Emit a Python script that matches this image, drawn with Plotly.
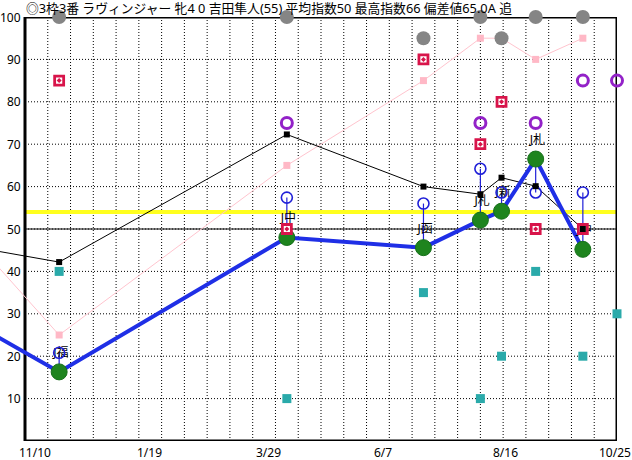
import pandas as pd
import plotly.graph_objects as go

# ---------------- data ----------------
title_text = "◎3枠3番 ラヴィンジャー 牝4 0 吉田隼人(55) 平均指数50 最高指数66 偏差値65.0A 追"

race_dates = ["2019-11-17", "2020-04-05", "2020-06-28", "2020-08-02",
              "2020-08-15", "2020-09-05", "2020-10-04"]
venues = ["J福", "J中", "J函", "J札", "J新", "J札", "J中"]
green_idx = [16.3, 48.0, 45.6, 52.1, 54.2, 66.5, 45.2]
blue_idx = [20.8, 57.4, 56.0, 64.2, 58.6, 58.6, 58.6]
black_idx = [42.2, 72.3, 60.0, 58.2, 62.1, 60.1, 50.0]
pink_idx = [25, 65, 85, 95, 95, 90, 95]
red_idx = [85, 50, 90, 70, 80, 50, 50]
gray_idx = [100, 100, 95, 100, 95, 100, 100]
purple_idx = [105, 75, 105, 75, 105, 75, 85]
teal_idx = [40, 10, 35, 10, 20, 40, 20]

prev_date = "2019-09-22"
prev_green, prev_pink, prev_black = 28.5, 49, 46

next_date = "2020-10-25"
next_purple = 85
next_teal = 30

axis_start = "2019-10-27"
axis_end = "2020-10-25"
x_tick_text = ["11/10", "1/19", "3/29", "6/7", "8/16", "10/25"]
y_ticks = [10, 20, 30, 40, 50, 60, 70, 80, 90, 100]
avg_line = 54
base_line = 50

# ---------------- geometry ----------------
W, H = 632, 460
ML, MR, MT, MB = 0, 15, 17, 19
AXIS_OFF = 25          # left axis sits 25px inside the plot area
plot_w = W - ML - MR
plot_h = H - MT - MB
t0 = pd.Timestamp(axis_start)
t1 = pd.Timestamp(axis_end)
span_days = (t1 - t0).days
px_per_day = (plot_w - AXIS_OFF) / span_days
px_per_unit = plot_h / 100.0
range_start = t0 - pd.Timedelta(days=AXIS_OFF / px_per_day)

FONT = "Noto Sans, Noto Sans CJK JP, sans-serif"

fig = go.Figure()

all_dates = [prev_date] + race_dates

# pink line
fig.add_trace(go.Scatter(x=all_dates, y=[prev_pink] + pink_idx, mode="lines",
                         line=dict(color="#FFC4CE", width=1), hoverinfo="skip"))
fig.add_trace(go.Scatter(x=race_dates, y=pink_idx, mode="markers",
                         marker=dict(symbol="square", size=7, color="#FFB8C6"),
                         cliponaxis=False))
# black line
fig.add_trace(go.Scatter(x=all_dates, y=[prev_black] + black_idx, mode="lines",
                         line=dict(color="black", width=1)))
# blue verticals
vx, vy = [], []
for d, b, g in zip(race_dates, blue_idx, green_idx):
    vx += [d, d, None]
    vy += [b, g, None]
fig.add_trace(go.Scatter(x=vx, y=vy, mode="lines",
                         line=dict(color="#2020D8", width=1.2)))
# blue thick line
fig.add_trace(go.Scatter(x=all_dates, y=[prev_green] + green_idx, mode="lines",
                         line=dict(color="#1F2FE6", width=4)))
# green markers
fig.add_trace(go.Scatter(x=race_dates, y=green_idx, mode="markers",
                         marker=dict(size=16, color="#1E841E",
                                     line=dict(color="#16701A", width=1)),
                         cliponaxis=False))
# venue labels
lab_x = [pd.Timestamp(d) - pd.Timedelta(days=6 / px_per_day) for d in race_dates]
lab_y = [g + 18 / px_per_unit for g in green_idx]
fig.add_trace(go.Scatter(x=lab_x, y=lab_y, mode="text", text=venues,
                         textposition="middle right",
                         textfont=dict(family=FONT, size=12, color="black"),
                         cliponaxis=False))
# blue open circles
fig.add_trace(go.Scatter(x=race_dates, y=blue_idx, mode="markers",
                         marker=dict(symbol="circle-open", size=11, color="#2020D8",
                                     line=dict(width=1.6)),
                         cliponaxis=False))
# red squares
fig.add_trace(go.Scatter(x=race_dates, y=red_idx, mode="markers",
                         marker=dict(symbol="square-dot", size=9, color="white",
                                     line=dict(color="#D8144A", width=2.8)),
                         cliponaxis=False))
# purple circles
fig.add_trace(go.Scatter(x=race_dates + [next_date], y=purple_idx + [next_purple],
                         mode="markers",
                         marker=dict(symbol="circle-open", size=11, color="#9322C8",
                                     line=dict(width=3)),
                         cliponaxis=False))
# gray circles
fig.add_trace(go.Scatter(x=race_dates, y=gray_idx, mode="markers",
                         marker=dict(size=14, color="#858585"),
                         cliponaxis=False))
# teal squares
fig.add_trace(go.Scatter(x=race_dates + [next_date], y=teal_idx + [next_teal],
                         mode="markers",
                         marker=dict(symbol="square", size=9, color="#2AAAAA"),
                         cliponaxis=False))
# black squares
fig.add_trace(go.Scatter(x=race_dates, y=black_idx, mode="markers",
                         marker=dict(symbol="square", size=6, color="black"),
                         cliponaxis=False))

# ---------------- shapes ----------------
shapes = []
dot = "1px,2px"
d = t0 + pd.Timedelta(days=14)
while d < t1:
    shapes.append(dict(type="line", xref="x", yref="y", x0=d, x1=d, y0=0, y1=100,
                       line=dict(color="black", width=1, dash=dot), layer="below"))
    d += pd.Timedelta(days=14)
for v in y_ticks[:-1]:
    shapes.append(dict(type="line", xref="x", yref="y", x0=t0, x1=t1, y0=v, y1=v,
                       line=dict(color="black", width=1, dash=dot), layer="below"))
shapes.append(dict(type="line", xref="x", yref="y", x0=t0, x1=t1, y0=base_line, y1=base_line,
                   line=dict(color="black", width=1), layer="below"))
shapes.append(dict(type="line", xref="x", yref="y", x0=t0, x1=t1, y0=avg_line, y1=avg_line,
                   line=dict(color="#FFFF1E", width=4), layer="below"))
shapes.append(dict(type="rect", xref="x", yref="y", x0=t0, x1=t1, y0=0, y1=100,
                   line=dict(color="black", width=3), layer="below"))

# ---------------- annotations ----------------
ann = []
ann.append(dict(text=title_text, x=t0, xref="x", y=1, yref="paper",
                xanchor="left", yanchor="middle", yshift=9, xshift=-1,
                showarrow=False, font=dict(family=FONT, size=12.8, color="black")))
for v in y_ticks:
    ann.append(dict(text=str(v), x=t0, xref="x", y=v, yref="y",
                    xanchor="right", yanchor="middle", xshift=-2,
                    showarrow=False, font=dict(family=FONT, size=12, color="black")))
for k, lab in enumerate(x_tick_text):
    tx = t0 + pd.Timedelta(days=span_days * k / 5)
    if k < len(x_tick_text) - 1:
        ann.append(dict(text=lab, x=tx, xref="x", y=0, yref="paper",
                        xanchor="left", yanchor="middle", xshift=-8, yshift=-11.5,
                        showarrow=False, font=dict(family=FONT, size=12, color="black")))
    else:
        ann.append(dict(text=lab, x=1, xref="paper", y=0, yref="paper",
                        xanchor="right", yanchor="middle", xshift=MR + 1, yshift=-11.5,
                        showarrow=False, font=dict(family=FONT, size=12, color="black")))

fig.update_layout(
    width=W, height=H,
    margin=dict(l=ML, r=MR, t=MT, b=MB),
    paper_bgcolor="white", plot_bgcolor="white",
    showlegend=False,
    shapes=shapes, annotations=ann,
    xaxis=dict(type="date", range=[range_start, t1], showgrid=False, zeroline=False,
               showticklabels=False, showline=False, fixedrange=True),
    yaxis=dict(range=[0, 100], showgrid=False, zeroline=False, showticklabels=False,
               showline=False, fixedrange=True),
)

fig.write_html("out.html", config={"displayModeBar": False},
               post_script="document.body.style.margin='0';document.body.style.padding='0';")
